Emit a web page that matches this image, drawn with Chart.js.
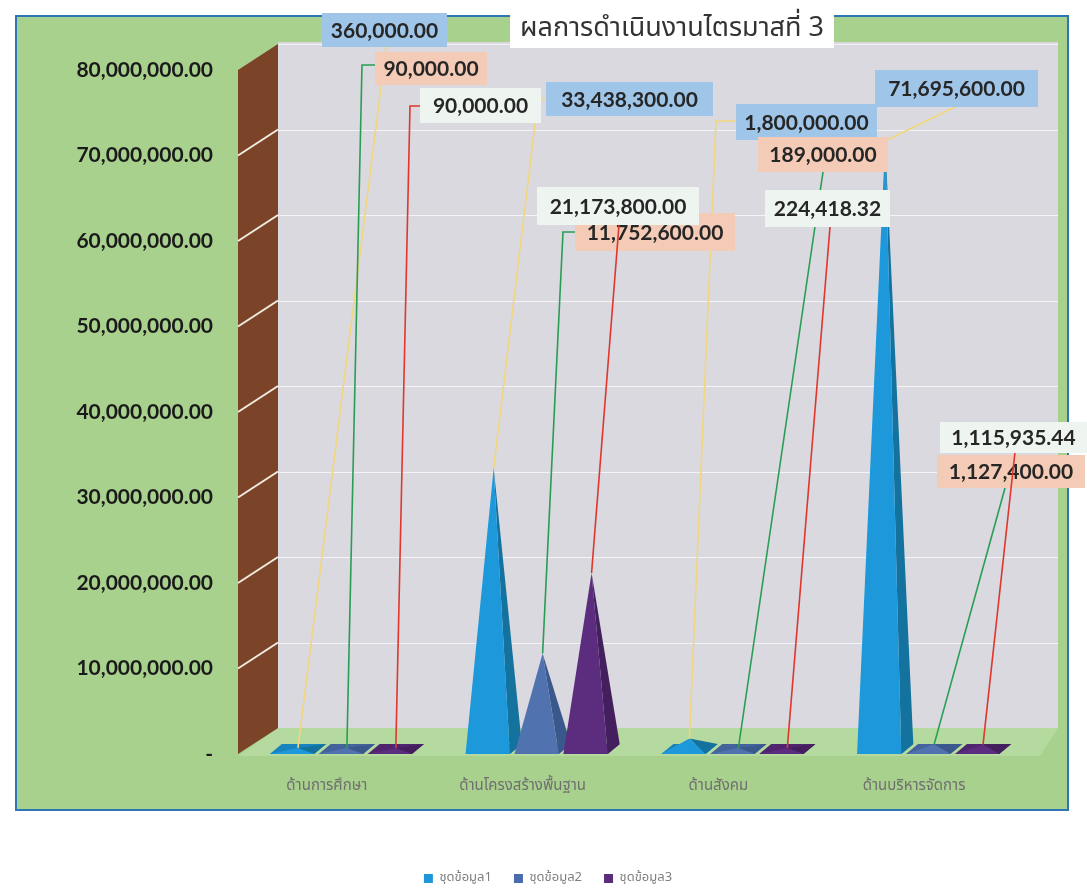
<!DOCTYPE html>
<html><head><meta charset="utf-8">
<script src="https://cdn.jsdelivr.net/npm/chart.js@4.4.1/dist/chart.umd.min.js"></script>
<style>html,body{margin:0;background:#fff}#wrap{width:1087px;height:889px}</style>
</head><body><div id="wrap"><canvas id="c"></canvas></div>
<script>
const categories = ["ด้านการศึกษา", "ด้านโครงสร้างพื้นฐาน", "ด้านสังคม", "ด้านบริหารจัดการ"];
const seriesNames = ["ชุดข้อมูล1", "ชุดข้อมูล2", "ชุดข้อมูล3"];
const series1 = [360000, 33438300, 1800000, 71695600];
const series2 = [90000, 11752600, 189000, 1127400];
const series3 = [90000, 21173800, 224418.32, 1115935.44];
const yTicks = [0, 10000000, 20000000, 30000000, 40000000, 50000000, 60000000, 70000000, 80000000];
const chartTitle = "ผลการดำเนินงานไตรมาสที่ 3";

const THAI = '"Noto Sans Thai", "Noto Sans Thai UI", "Noto Sans", sans-serif';
const fmt = v => v.toLocaleString('en-US', {minimumFractionDigits: 2, maximumFractionDigits: 2});

// pyramid faces + label box / leader colours per series
const looks = [
  {front: '#1d98da', side: '#14729f', top: '#1884bd', lead: '#f3d67c', box: '#9fc5e8', legend: '#1e96d8'},
  {front: '#5073b0', side: '#3b588c', top: '#44629c', lead: '#2a9d55', box: '#f3cbb6', legend: '#4a6cae'},
  {front: '#5c2c7e', side: '#43205d', top: '#4f2570', lead: '#e0362c', box: '#eef5f0', legend: '#5b2c7b'}
];

// where each data label box sits, and the bend points of its leader line
const spots = [
  [{box: [322, 13, 125, 34], path: [[386, 47]]},
   {box: [546, 82, 167, 34], path: [[538, 99], [546, 99]]},
   {box: [736, 104, 141, 36], path: [[716, 121], [736, 121]]},
   {box: [875, 70, 163, 37], path: [[955, 107]]}],
  [{box: [375, 52, 112, 33], path: [[362, 65], [375, 65]]},
   {box: [575, 213, 160, 38], path: [[563, 232], [575, 232]]},
   {box: [758, 137, 130, 35], path: [[823, 172]]},
   {box: [937, 455, 148, 33], path: [[1005, 488]]}],
  [{box: [420, 88, 121, 35], path: [[410, 106], [420, 106]]},
   {box: [537, 187, 162, 38], path: [[619, 225]]},
   {box: [765, 190, 125, 37], path: [[830, 227]]},
   {box: [940, 422, 147, 31], path: [[1015, 452]]}]
];

const DX = 12, DY = 10;

function apexOf(el) {
  return [el.x, Math.min(el.y, el.base - DY / 2 - 1)];
}

const scenery = {
  id: 'scenery',
  afterLayout(chart) {
    // push the legend row down into the white strip under the frame
    chart.legend.top += 10;
    chart.legend.bottom += 10;
  },
  beforeDraw(chart) {
    const ctx = chart.ctx, y = chart.scales.y;
    const y0 = y.getPixelForValue(0), yTop = y.getPixelForValue(80000000);
    ctx.save();
    ctx.fillStyle = '#fff';
    ctx.fillRect(0, 0, chart.width, chart.height);
    // outer green frame
    ctx.fillStyle = '#a9d18e';
    ctx.fillRect(16, 16, 1052, 794);
    ctx.strokeStyle = '#2e75b6';
    ctx.lineWidth = 2;
    ctx.strokeRect(16, 16, 1052, 794);
    // back wall
    ctx.fillStyle = '#d9d9df';
    ctx.fillRect(278, yTop - 28, 780, y0 - yTop + 2);
    ctx.strokeStyle = 'rgba(255,255,255,0.7)';
    ctx.lineWidth = 1;
    yTicks.slice(1).forEach(v => {
      const p = Math.round(y.getPixelForValue(v) - 26) + 0.5;
      ctx.beginPath(); ctx.moveTo(278, p); ctx.lineTo(1058, p); ctx.stroke();
    });
    // floor
    ctx.fillStyle = '#b4daa0';
    ctx.beginPath();
    ctx.moveTo(238, y0 + 2); ctx.lineTo(278, y0 - 26); ctx.lineTo(1058, y0 - 26); ctx.lineTo(1040, y0 + 2);
    ctx.closePath(); ctx.fill();
    // side wall
    ctx.fillStyle = '#7b4429';
    ctx.beginPath();
    ctx.moveTo(238, yTop); ctx.lineTo(278, yTop - 26); ctx.lineTo(278, y0 - 26); ctx.lineTo(238, y0);
    ctx.closePath(); ctx.fill();
    ctx.strokeStyle = '#f2ece0';
    ctx.lineWidth = 2;
    yTicks.slice(1, -1).forEach(v => {
      const p = y.getPixelForValue(v);
      ctx.beginPath(); ctx.moveTo(238, p); ctx.lineTo(278, p - 26); ctx.stroke();
    });
    // title
    ctx.font = '27px ' + THAI;
    const tw = ctx.measureText(chartTitle).width;
    ctx.fillStyle = '#fff';
    ctx.fillRect(672 - tw / 2 - 10, 12, tw + 20, 36);
    ctx.fillStyle = '#333';
    ctx.textAlign = 'center';
    ctx.textBaseline = 'middle';
    ctx.fillText(chartTitle, 672, 31);
    ctx.restore();
  },
  beforeDatasetsDraw(chart) {
    const ctx = chart.ctx;
    ctx.save();
    chart.data.datasets.forEach((ds, i) => {
      const lk = looks[i];
      chart.getDatasetMeta(i).data.forEach(el => {
        const b = el.base, L = el.x - el.width / 2, R = el.x + el.width / 2 - DX;
        const [ax, ay] = apexOf(el);
        const poly = (pts, c) => {
          ctx.fillStyle = c; ctx.beginPath();
          pts.forEach((p, k) => k ? ctx.lineTo(p[0], p[1]) : ctx.moveTo(p[0], p[1]));
          ctx.closePath(); ctx.fill();
        };
        poly([[L, b], [R, b], [R + DX, b - DY], [L + DX, b - DY]], lk.top);
        poly([[R, b], [R + DX, b - DY], [ax, ay]], lk.side);
        poly([[L, b], [R, b], [ax, ay]], lk.front);
      });
    });
    ctx.restore();
    return false;
  },
  afterDraw(chart) {
    const ctx = chart.ctx;
    ctx.save();
    chart.data.datasets.forEach((ds, i) => {
      const lk = looks[i];
      chart.getDatasetMeta(i).data.forEach((el, j) => {
        const s = spots[i][j];
        const [ax, ay] = apexOf(el);
        ctx.strokeStyle = lk.lead;
        ctx.lineWidth = 1.6;
        ctx.beginPath(); ctx.moveTo(ax, ay);
        s.path.forEach(p => ctx.lineTo(p[0], p[1]));
        ctx.stroke();
        ctx.fillStyle = lk.box;
        ctx.fillRect(s.box[0], s.box[1], s.box[2], s.box[3]);
        ctx.fillStyle = '#262626';
        ctx.font = 'bold 21px Lato, "Open Sans", sans-serif';
        ctx.textAlign = 'center';
        ctx.textBaseline = 'middle';
        ctx.fillText(fmt(ds.data[j]), s.box[0] + s.box[2] / 2, s.box[1] + s.box[3] / 2 + 1);
      });
    });
    ctx.restore();
  }
};

new Chart(document.getElementById('c'), {
  type: 'bar',
  data: {
    labels: categories,
    datasets: [series1, series2, series3].map((d, i) => ({
      label: seriesNames[i],
      data: d,
      backgroundColor: looks[i].legend,
      categoryPercentage: 0.75,
      barPercentage: 1.15
    }))
  },
  options: {
    responsive: true,
    maintainAspectRatio: false,
    animation: false,
    layout: {padding: {top: 70, right: 55, bottom: 4, left: 64}},
    plugins: {
      tooltip: {enabled: false},
      legend: {
        position: 'bottom',
        labels: {boxWidth: 9, boxHeight: 9, padding: 22, color: '#7f7f7f', font: {family: THAI, size: 13}}
      }
    },
    scales: {
      x: {
        grid: {display: false},
        border: {display: false},
        ticks: {color: '#6f6f6f', padding: 16, labelOffset: -20, font: {family: THAI, size: 15}},
        afterFit: s => { s.height = 86; }
      },
      y: {
        min: 0, max: 80000000,
        grid: {display: false, drawTicks: false},
        border: {display: false},
        afterBuildTicks: s => { s.ticks = yTicks.map(v => ({value: v})); },
        afterFit: s => { s.width = 185; },
        ticks: {
          padding: 36,
          color: '#1a1a1a',
          font: {family: 'Lato, "Open Sans", sans-serif', size: 21, weight: 'bold'},
          callback: v => v === 0 ? '-' : fmt(v)
        }
      }
    }
  },
  plugins: [scenery]
});
</script>
</body></html>
